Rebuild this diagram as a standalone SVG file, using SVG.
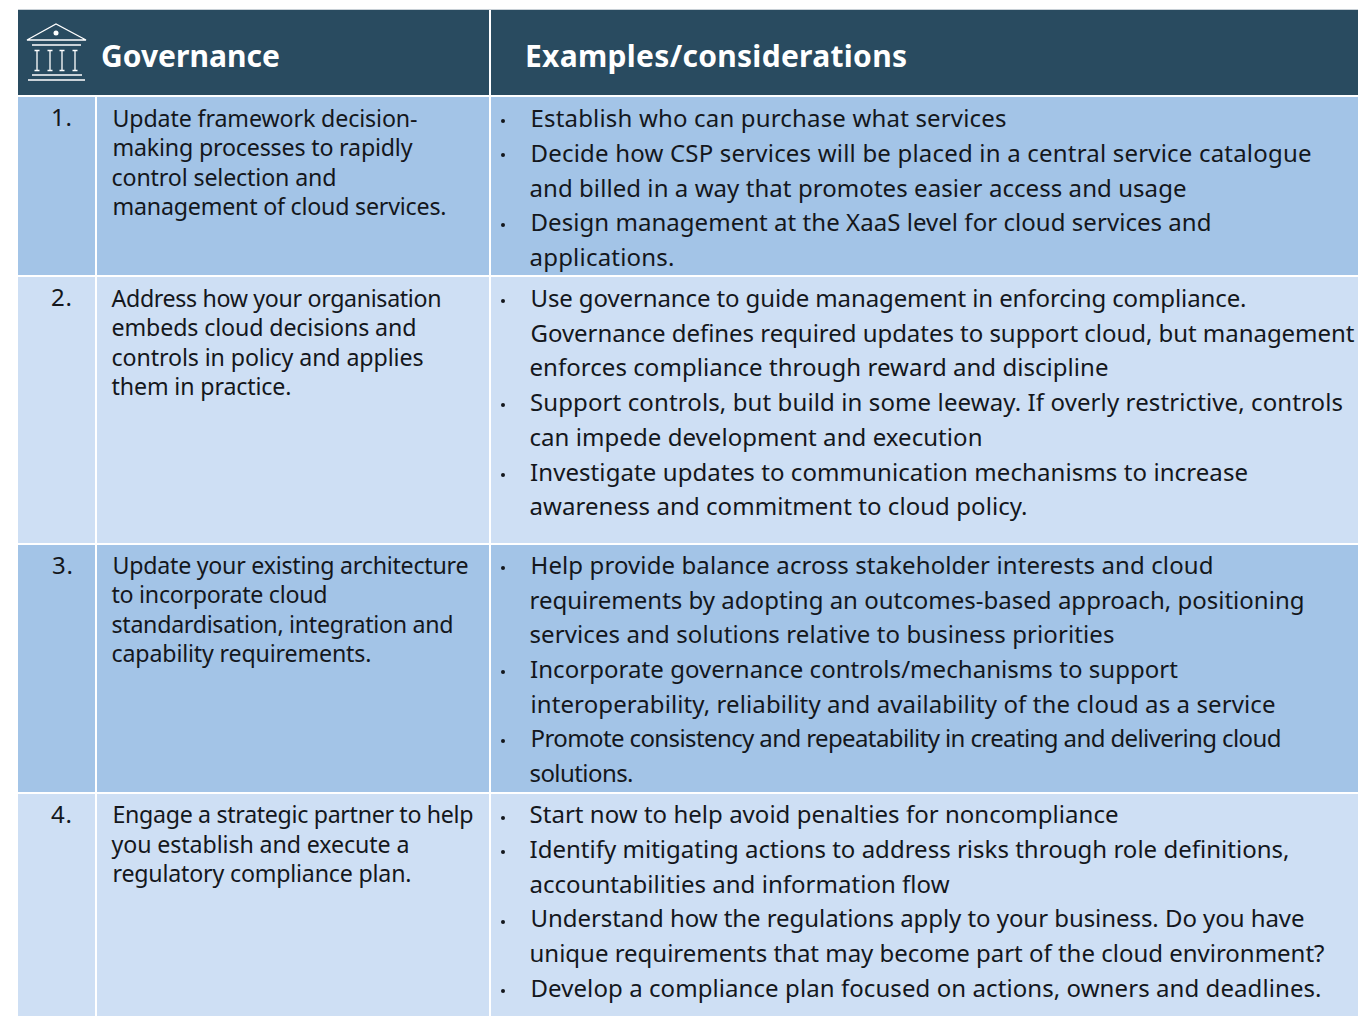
<svg xmlns="http://www.w3.org/2000/svg" width="1358" height="1016" viewBox="0 0 1358 1016">
<style>
text{font-family:"Noto Sans","Open Sans","Liberation Sans",sans-serif;font-size:24px;fill:#14171c}
text.l{font-size:23.2px}
.h{font-size:30px;font-weight:700;fill:#fff}
.dark{fill:#294b60}.a{fill:#a3c4e7}.b{fill:#cedff4}
.i{fill:none;stroke:#fff;stroke-width:1.3}
.bu{fill:#14171c}
</style>
<rect width="1358" height="1016" fill="#fff"/>
<rect x="18" y="9" width="1340" height="1" fill="#c8d0d6"/>
<g id="header">
<rect class="dark" x="18" y="10" width="471" height="85"/>
<rect class="dark" x="491" y="10" width="867" height="85"/>
<g id="icon">
<path class="i" d="M27 40L56 24L86 40ZM32 45H81M32 75H82M28 80H85M37 51V70M50 51V70M62 51V70M75 51V70M34.500 50.500H39.500M47.500 50.500H52.500M59.500 50.500H64.500M72.500 50.500H77.500M34.500 70.500H39.500M47.500 70.500H52.500M59.500 70.500H64.500M72.500 70.500H77.500"/>
<circle cx="56" cy="33" r="2.5" fill="#fff"/>
</g>
<text class="h" x="101" y="67" textLength="179">Governance</text>
<text class="h" x="525" y="67" textLength="382">Examples/considerations</text>
</g>
<g id="row1">
<rect class="a" x="18" y="97" width="77" height="178"/><rect class="a" x="97" y="97" width="392" height="178"/><rect class="a" x="491" y="97" width="867" height="178"/>
<text x="51" y="126" textLength="21">1.</text>
<text class="l" x="112.500" y="126.500" textLength="305">Update framework decision-</text>
<text class="l" x="112.500" y="156" textLength="300">making processes to rapidly</text>
<text class="l" x="111.500" y="185.500" textLength="225">control selection and</text>
<text class="l" x="112.500" y="214.500" textLength="334">management of cloud services.</text>
<circle class="bu" cx="503" cy="121" r="2"/><circle class="bu" cx="503" cy="155" r="2"/><circle class="bu" cx="503" cy="225" r="2"/>
<text x="530.500" y="127" textLength="476">Establish who can purchase what services</text>
<text x="530.500" y="162" textLength="781">Decide how CSP services will be placed in a central service catalogue</text>
<text x="529.500" y="197" textLength="657">and billed in a way that promotes easier access and usage</text>
<text x="530.500" y="231" textLength="681">Design management at the XaaS level for cloud services and</text>
<text x="529.500" y="266" textLength="145">applications.</text>
</g>
<g id="row2">
<rect class="b" x="18" y="277" width="77" height="266"/><rect class="b" x="97" y="277" width="392" height="266"/><rect class="b" x="491" y="277" width="867" height="266"/>
<text x="51" y="306" textLength="21">2.</text>
<text class="l" x="111.500" y="306.500" textLength="330">Address how your organisation</text>
<text class="l" x="111.500" y="335.500" textLength="305">embeds cloud decisions and</text>
<text class="l" x="111.500" y="365.500" textLength="312">controls in policy and applies</text>
<text class="l" x="111.500" y="394.500" textLength="180">them in practice.</text>
<circle class="bu" cx="503" cy="301" r="2"/><circle class="bu" cx="503" cy="405" r="2"/><circle class="bu" cx="503" cy="475" r="2"/>
<text x="530.500" y="307" textLength="716">Use governance to guide management in enforcing compliance.</text>
<text x="530.500" y="342" textLength="824">Governance defines required updates to support cloud, but management</text>
<text x="529.500" y="376" textLength="579">enforces compliance through reward and discipline</text>
<text x="530" y="411" textLength="813">Support controls, but build in some leeway. If overly restrictive, controls</text>
<text x="529.500" y="446" textLength="453">can impede development and execution</text>
<text x="530" y="481" textLength="718">Investigate updates to communication mechanisms to increase</text>
<text x="529.500" y="515" textLength="498">awareness and commitment to cloud policy.</text>
</g>
<g id="row3">
<rect class="a" x="18" y="545" width="77" height="247"/><rect class="a" x="97" y="545" width="392" height="247"/><rect class="a" x="491" y="545" width="867" height="247"/>
<text x="52" y="574" textLength="21">3.</text>
<text class="l" x="112.500" y="573.500" textLength="356">Update your existing architecture</text>
<text class="l" x="111.500" y="602.500" textLength="216">to incorporate cloud</text>
<text class="l" x="111.500" y="632.500" textLength="342">standardisation, integration and</text>
<text class="l" x="111.500" y="661.500" textLength="260">capability requirements.</text>
<circle class="bu" cx="503" cy="568" r="2"/><circle class="bu" cx="503" cy="672" r="2"/><circle class="bu" cx="503" cy="741" r="2"/>
<text x="530.500" y="574" textLength="683">Help provide balance across stakeholder interests and cloud</text>
<text x="529.500" y="609" textLength="775">requirements by adopting an outcomes-based approach, positioning</text>
<text x="529.500" y="643" textLength="585">services and solutions relative to business priorities</text>
<text x="530" y="678" textLength="648">Incorporate governance controls/mechanisms to support</text>
<text x="530.500" y="713" textLength="745">interoperability, reliability and availability of the cloud as a service</text>
<text x="530.500" y="747" textLength="751">Promote consistency and repeatability in creating and delivering cloud</text>
<text x="529.500" y="782" textLength="104">solutions.</text>
</g>
<g id="row4">
<rect class="b" x="18" y="794" width="77" height="222"/><rect class="b" x="97" y="794" width="392" height="222"/><rect class="b" x="491" y="794" width="867" height="222"/>
<text x="51" y="823" textLength="21">4.</text>
<text class="l" x="112.500" y="823" textLength="361">Engage a strategic partner to help</text>
<text class="l" x="111.500" y="852.500" textLength="298">you establish and execute a</text>
<text class="l" x="112.500" y="881.500" textLength="299">regulatory compliance plan.</text>
<circle class="bu" cx="503" cy="818" r="2"/><circle class="bu" cx="503" cy="852" r="2"/><circle class="bu" cx="503" cy="922" r="2"/><circle class="bu" cx="503" cy="991" r="2"/>
<text x="529.500" y="823" textLength="589">Start now to help avoid penalties for noncompliance</text>
<text x="529.500" y="858" textLength="760">Identify mitigating actions to address risks through role definitions,</text>
<text x="529.500" y="893" textLength="420">accountabilities and information flow</text>
<text x="530.500" y="927" textLength="774">Understand how the regulations apply to your business. Do you have</text>
<text x="529.500" y="962" textLength="795">unique requirements that may become part of the cloud environment?</text>
<text x="530.500" y="997" textLength="791">Develop a compliance plan focused on actions, owners and deadlines.</text>
</g>
</svg>
